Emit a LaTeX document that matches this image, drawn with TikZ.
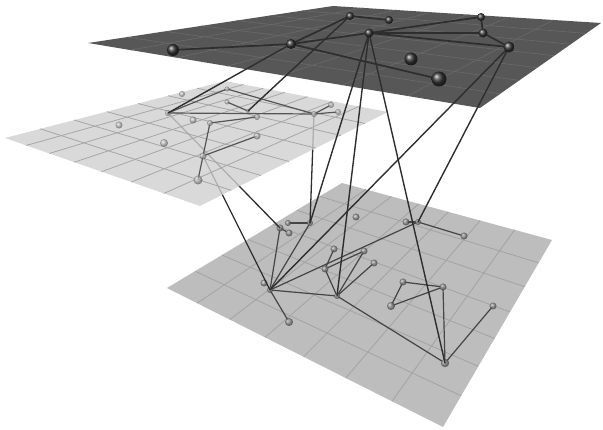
\documentclass[tikz,border=0pt]{standalone}
\usetikzlibrary{calc}
\definecolor{topfill}{HTML}{575757}
\definecolor{topgrid}{HTML}{6A6A6A}
\definecolor{midfill}{HTML}{D0D0D0}
\definecolor{midgrid}{HTML}{A6A6A6}
\definecolor{botfill}{HTML}{BDBDBD}
\definecolor{botgrid}{HTML}{A3A3A3}
\definecolor{edgedark}{HTML}{2E2E2E}
\definecolor{edgebot}{HTML}{454545}
\definecolor{edgemid}{HTML}{555555}
% perspective weights (relative depth) of corners L, T, R, B
\newcommand{\wL}{1.36}
\newcommand{\wT}{1.56}
\newcommand{\wR}{1.20}
\newcommand{\wB}{1.00}
\newcommand{\gridplane}[6]{%
  \fill[#5] (#1)--(#2)--(#3)--(#4)--cycle;
  \foreach \i in {1,...,6}{%
    \pgfmathsetmacro{\u}{\i/7}%
    \pgfmathsetmacro{\ua}{\u*\wT/((1-\u)*\wL+\u*\wT)}%
    \pgfmathsetmacro{\ub}{\u*\wR/((1-\u)*\wB+\u*\wR)}%
    \pgfmathsetmacro{\va}{\u*\wB/((1-\u)*\wL+\u*\wB)}%
    \pgfmathsetmacro{\vb}{\u*\wR/((1-\u)*\wT+\u*\wR)}%
    \draw[#6] ($(#1)!\ua!(#2)$) -- ($(#4)!\ub!(#3)$);
    \draw[#6] ($(#1)!\va!(#4)$) -- ($(#2)!\vb!(#3)$);
  }%
}
\tikzset{
  topball/.style={circle, inner sep=0pt, shading=ball, ball color=black!78},
  midball/.style={circle, inner sep=0pt, shading=ball, ball color=black!28, opacity=0.7},
  botball/.style={circle, inner sep=0pt, shading=ball, ball color=black!45, opacity=0.8},
  topedge/.style={draw=edgedark, line width=1.7pt, line cap=round},
  interedge/.style={draw=edgedark, line width=1.4pt, line cap=round},
  botedge/.style={draw=edgebot, line width=1.2pt, line cap=round},
  midedge/.style={draw=edgemid, line width=1.2pt, line cap=round},
  underedge/.style={draw=edgedark, line width=1.3pt, line cap=round},
}
\begin{document}
\begin{tikzpicture}[x=1pt,y=-1pt]
\useasboundingbox (0,0) rectangle (603,430);
% plane corners
\coordinate (tL) at (88,43);  \coordinate (tT) at (333,6);
\coordinate (tR) at (601,23); \coordinate (tB) at (480,108);
\coordinate (mL) at (5,138);  \coordinate (mT) at (225,81);
\coordinate (mR) at (388,112);\coordinate (mB) at (200,206);
\coordinate (bL) at (167,288);\coordinate (bT) at (342,183);
\coordinate (bR) at (552,240);\coordinate (bB) at (443,427);
% top layer
\coordinate (T1) at (173,50);  \coordinate (T2) at (291,44);
\coordinate (T3) at (350,16);  \coordinate (T4) at (389,20);
\coordinate (T5) at (369,33);  \coordinate (T6) at (481,17);
\coordinate (T7) at (483,33);  \coordinate (T8) at (509,47);
\coordinate (T9) at (411,59);  \coordinate (T10) at (439,79);
% middle layer
\coordinate (M1) at (168,113); \coordinate (M2) at (227,89);
\coordinate (M3) at (227,102); \coordinate (M4) at (257,117);
\coordinate (M5) at (210,123); \coordinate (M6) at (193,120);
\coordinate (M7) at (182,94);  \coordinate (M8) at (164,143);
\coordinate (M9) at (257,136); \coordinate (M10) at (203,156);
\coordinate (M11) at (198,180);\coordinate (M12) at (314,114);
\coordinate (M13) at (331,105);\coordinate (M14) at (338,112);
\coordinate (M15) at (119,125);\coordinate (M16) at (248,111);
% bottom layer
\coordinate (B1) at (280,228); \coordinate (B2) at (288,223);
\coordinate (B3) at (289,233); \coordinate (B4) at (310,223);
\coordinate (B5) at (356,217); \coordinate (B6) at (406,222);
\coordinate (B7) at (418,222); \coordinate (B8) at (464,236);
\coordinate (B9) at (334,249); \coordinate (B10) at (364,251);
\coordinate (B11) at (325,269);\coordinate (B12) at (374,263);
\coordinate (B13) at (264,283);\coordinate (B14) at (270,290);
\coordinate (B15) at (337,296);\coordinate (B16) at (289,322);
\coordinate (B17) at (403,282);\coordinate (B18) at (443,287);
\coordinate (B19) at (391,306);\coordinate (B20) at (493,306);
\coordinate (B21) at (445,363);

% bottom plane
\gridplane{bL}{bT}{bR}{bB}{botfill}{botgrid, line width=0.8pt}
\foreach \a/\b in {B14/B15,B14/B16,B15/B21,B21/B20,B21/B18,B17/B18,B17/B19,B19/B18,
  B15/B10,B15/B12,B11/B9,B11/B10,B11/B15,B14/B7,B7/B8,B6/B7,B14/B1,B14/B4,B1/B3,B2/B4}
  \draw[botedge] (\a) -- (\b);
\foreach \n/\r in {B1/3.5,B2/3,B3/3.5,B4/3,B5/3.5,B6/3.5,B7/3,B8/3.5,B9/3.5,B10/3.5,B11/3.5,
  B12/3.5,B13/3.5,B14/3,B15/3,B16/4,B17/3.5,B18/3.5,B19/4,B20/3.5,B21/4.2}
  \node[botball, minimum size=2*\r pt] (n\n) at (\n) {};

% middle-to-bottom connectors (seen through the middle plane)
\foreach \a/\b in {M1/B1,M10/B14,M12/B4}
  \draw[underedge] (\a) -- (\b);

% middle plane
\gridplane{mL}{mT}{mR}{mB}{midfill, fill opacity=0.8}{midgrid, line width=0.8pt}
\foreach \a/\b in {M1/M2,M2/M12,M1/M12,M3/M16,M5/M4,M5/M10,M10/M9,M10/M11,M12/M13,M12/M14}
  \draw[midedge] (\a) -- (\b);
\foreach \n/\r in {M1/3,M2/2.5,M3/2.5,M4/3,M5/3,M6/3.5,M7/3,M8/4,M9/3.5,M10/3.5,M11/4.5,
  M12/3,M13/3,M14/3,M15/3.5,M16/2}
  \node[midball, minimum size=2*\r pt] (n\n) at (\n) {};

% top plane
\gridplane{tL}{tT}{tR}{tB}{topfill}{topgrid, line width=0.6pt}

% top-to-lower connectors
\foreach \a/\b in {T2/M1,T3/M16,T5/B4,T5/B15,T5/B21,T8/B14,T8/B7}
  \draw[interedge] (\a) -- (\b);

% top layer connectors and nodes
\foreach \a/\b in {T1/T2,T2/T3,T2/T5,T3/T4,T5/T6,T5/T7,T6/T7,T7/T8,T5/T8,T2/T10}
  \draw[topedge] (\a) -- (\b);
\foreach \n/\r in {T1/6,T2/5,T3/4,T4/4,T5/4.5,T6/4,T7/4.5,T8/5.5,T9/6.5,T10/7.5}
  \node[topball, minimum size=2*\r pt] (n\n) at (\n) {};
\end{tikzpicture}
\end{document}
